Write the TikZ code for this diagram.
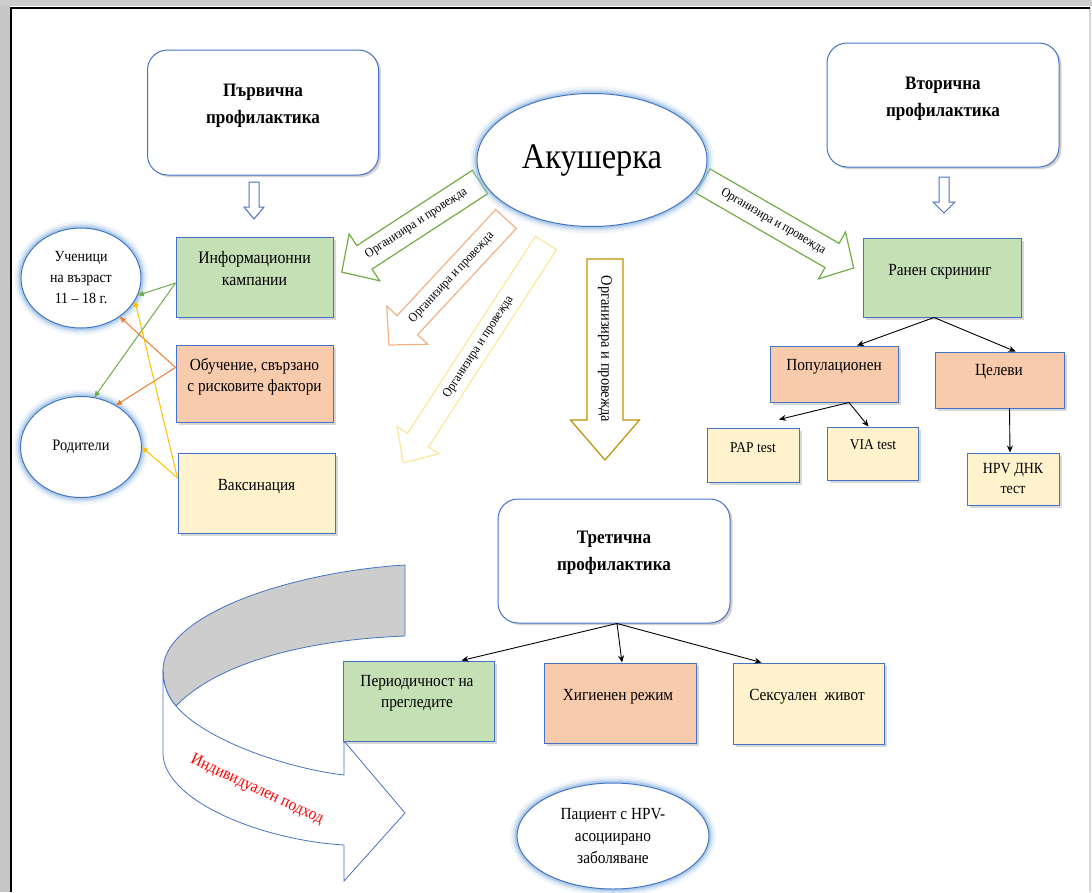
\documentclass[tikz,border=0pt]{standalone}
\usepackage{fontspec}
\setmainfont{Liberation Serif}[FakeStretch=0.9]
\usetikzlibrary{shapes.geometric, arrows.meta, shadows, calc}

\definecolor{bblue}{HTML}{4472C4}
\definecolor{gfill}{HTML}{C5E0B4}
\definecolor{pfill}{HTML}{F8CBAD}
\definecolor{yfill}{HTML}{FFF2CC}
\definecolor{garr}{HTML}{70AD47}
\definecolor{parr}{HTML}{F4B183}
\definecolor{yarr}{HTML}{FFE699}
\definecolor{goldarr}{HTML}{BF9000}
\definecolor{oarr}{HTML}{ED7D31}
\definecolor{yarrB}{HTML}{FFC000}
\definecolor{glowc}{HTML}{5B9BD5}
\definecolor{bandgray}{HTML}{CDCDCD}

\newcommand{\fs}[2]{\fontsize{#1}{#2}\selectfont}
\newcounter{barr}
% #1 start, #2 angle, #3 length, #4 half shaft, #5 half head, #6 head length, #7 colour, #8 text centre distance, #9 text rotation
\newcommand{\barrow}[9]{%
  \stepcounter{barr}%
  \begin{scope}[shift={#1}, rotate=#2]
    \draw[draw=#7, line width=1.2pt, fill=white, line join=miter]
      (0pt,-#4pt) -- ({#3pt-#6pt},-#4pt) -- ({#3pt-#6pt},-#5pt) -- (#3pt,0pt)
      -- ({#3pt-#6pt},#5pt) -- ({#3pt-#6pt},#4pt) -- (0pt,#4pt) -- cycle;
    \node[arrtxt, rotate=#9] (lbl\thebarr) at (#8pt,0pt) {Организира и провежда};
  \end{scope}}

\begin{document}
\begin{tikzpicture}[x=1pt, y=-1pt,
  box/.style={rectangle, draw=bblue, line width=1pt, inner sep=0pt,
    drop shadow={shadow xshift=2.5pt, shadow yshift=-2.5pt, opacity=0.3}},
  headbox/.style={rectangle, rounded corners=20pt, draw=bblue, line width=1pt, fill=white, inner sep=0pt,
    drop shadow={shadow xshift=2.5pt, shadow yshift=-2pt, opacity=0.35}},
  txt/.style={align=center, font=\fs{17}{21}, inner sep=0pt},
  htxt/.style={align=center, font=\bfseries\fs{19}{27}, inner sep=0pt},
  arrtxt/.style={font=\fs{13}{15}, inner sep=0pt},
  glowell/.style={ellipse, draw=bblue, line width=1pt, fill=white, inner sep=0pt, align=center,
    preaction={draw=glowc!50, line width=14pt, opacity=0.18},
    preaction={draw=glowc!60, line width=9pt, opacity=0.3},
    preaction={draw=glowc!70, line width=5pt, opacity=0.5}},
  thinar/.style={line width=1pt, -{Triangle[length=6pt,width=5pt]}},
  blkar/.style={line width=0.9pt, -{Stealth[length=7pt,width=6pt]}},
  hollow/.style={draw=bblue, line width=1pt, fill=white}
]
\useasboundingbox (0,0) rectangle (1092,892);
\fill[white] (0,0) rectangle (1092,892);

% frame
\fill[gray!45] (0,0) rectangle (10,892);
\fill[gray!40] (0,0) rectangle (1092,6);
\draw[gray!30, line width=1.5pt] (1090,8) -- (1090,892);
\draw[black, line width=2pt] (11,892) -- (11,8) -- (1090,8);

% ribbon arrow (individual approach)
\fill[bandgray, draw=bblue, line width=0.8pt]
  (405,565) .. controls (290,572) and (163,615) .. (163,670)
  .. controls (163,685) and (168,697) .. (176,706)
  .. controls (215,665) and (300,640) .. (405,636) -- cycle;
\filldraw[fill=white, draw=bblue, line width=0.8pt]
  (163,670) -- (163,753)
  .. controls (163,800) and (260,840) .. (344,845)
  -- (344,881) -- (405,813) -- (344,741) -- (344,775)
  .. controls (285,768) and (205,740) .. (176,706)
  .. controls (168,697) and (163,685) .. (163,670) -- cycle;
\node[font=\fs{17}{20}, text=red, rotate=-25, inner sep=0pt] (indiv) at (257,790) {Индивидуален подход};

% block arrows from the midwife
\barrow{(480,182)}{213.1}{165}{14}{28}{27}{garr}{76}{33.1}
\barrow{(506,219)}{227.1}{172}{14}{28}{27}{parr}{80}{47.1}
\barrow{(546,243)}{237}{262}{12.5}{25}{27}{yarr}{124}{57}
\barrow{(703,181)}{-30}{174}{14}{27}{25}{garr}{81}{-30}
\begin{scope}[arrtxt/.style={font=\fs{16}{18}, inner sep=0pt}]
\barrow{(605,259)}{-90}{201}{18}{34.5}{40}{goldarr}{90}{-90}
\end{scope}

% central ellipse
\node[glowell, minimum width=230pt, minimum height=133pt, font=\fs{36}{40}] (akush) at (592,160) {Акушерка};

% heading boxes
\node[headbox, minimum width=231pt, minimum height=125pt] (prv) at (263,112.5) {};
\node[htxt] (prvt) at (263,106) {Първична\\профилактика};
\node[headbox, minimum width=232pt, minimum height=124pt] (vtr) at (943,105) {};
\node[htxt] (vtrt) at (943,99) {Вторична\\профилактика};
\node[headbox, minimum width=232pt, minimum height=124pt] (tret) at (614,561) {};
\node[htxt] (trett) at (614,553) {Третична\\профилактика};

% small hollow arrows
\draw[hollow] (249,182) -- (259,182) -- (259,207) -- (264,207) -- (254,219) -- (244,207) -- (249,207) -- cycle;
\draw[hollow] (939,177) -- (949,177) -- (949,202) -- (955,202) -- (944,213) -- (933,202) -- (939,202) -- cycle;

% primary prevention boxes
\node[box, fill=gfill, minimum width=157pt, minimum height=80pt] (info) at (254.5,277) {};
\node[txt, font=\fs{17.5}{22}] (infot) at (254.5,269) {Информационни\\кампании};
\node[box, fill=pfill, minimum width=157pt, minimum height=77pt] (obuch) at (254.5,383.5) {};
\node[txt] (obucht) at (254.5,377) {Обучение, свързано\\с рисковите фактори};
\node[box, fill=yfill, minimum width=157pt, minimum height=80pt] (vax) at (256.5,493) {};
\node[txt] (vaxt) at (256.5,487) {Ваксинация};

% target groups
\node[glowell, minimum width=120pt, minimum height=100pt, font=\fs{15.5}{21}] (uch) at (81,278) {Ученици\\на възраст\\11 – 18 г.};
\node[glowell, minimum width=121pt, minimum height=101pt, font=\fs{16}{20}] (rod) at (81,447) {Родители};

\draw[thinar, garr] ([yshift=-6pt]info.west) -- (uch.-17);
\draw[thinar, garr] ([yshift=-6pt]info.west) -- (rod.75);
\draw[thinar, oarr] ([yshift=16pt]obuch.west) -- (uch.-45);
\draw[thinar, oarr] ([yshift=16pt]obuch.west) -- (rod.50);
\draw[thinar, yarrB] ([yshift=15pt]vax.west) -- (uch.-23);
\draw[thinar, yarrB] ([yshift=15pt]vax.west) -- (rod.0);

% secondary prevention
\node[box, fill=gfill, minimum width=158pt, minimum height=79pt] (ranen) at (942,277.5) {};
\node[txt] (ranent) at (940,272) {Ранен скрининг};
\node[box, fill=pfill, minimum width=128pt, minimum height=56pt] (popul) at (834,374) {};
\node[txt] (popult) at (834,367) {Популационен};
\node[box, fill=pfill, minimum width=129pt, minimum height=56pt] (celevi) at (999.5,380) {};
\node[txt] (celevit) at (999,372) {Целеви};
\node[box, fill=yfill, minimum width=92pt, minimum height=54pt] (pap) at (753,455) {};
\node[txt, font=\fs{15}{19}] (papt) at (753,448) {PAP test};
\node[box, fill=yfill, minimum width=91pt, minimum height=53pt] (via) at (872.5,453.5) {};
\node[txt, font=\fs{15}{19}] (viat) at (873,445) {VIA test};
\node[box, fill=yfill, minimum width=92pt, minimum height=52pt] (hpv) at (1013,479) {};
\node[txt, font=\fs{15.5}{20}] (hpvt) at (1013,478) {HPV ДНК\\тест};

\draw[blkar] ([xshift=-8pt]ranen.south) -- ([xshift=23pt]popul.north);
\draw[blkar] ([xshift=-8pt]ranen.south) -- ([xshift=16pt]celevi.north);
\draw[blkar] ([xshift=15pt]popul.south) -- ([xshift=26pt,yshift=8pt]pap.north);
\draw[blkar] ([xshift=15pt]popul.south) -- ([xshift=-4pt]via.north);
\draw[blkar] ([xshift=10pt]celevi.south) -- ([xshift=-3pt]hpv.north);

% tertiary prevention
\node[box, fill=gfill, minimum width=151pt, minimum height=80pt] (per) at (418.5,701) {};
\node[txt] (pert) at (417,693) {Периодичност на\\прегледите};
\node[box, fill=pfill, minimum width=152pt, minimum height=80pt] (hyg) at (620,703) {};
\node[txt] (hygt) at (618,697) {Хигиенен режим};
\node[box, fill=yfill, minimum width=151pt, minimum height=81pt] (sex) at (808.5,703.5) {};
\node[txt] (sext) at (807,697) {Сексуален\ \ живот};

\draw[blkar] ([xshift=3pt]tret.south) -- ([xshift=43pt]per.north);
\draw[blkar] ([xshift=3pt]tret.south) -- ([xshift=2pt]hyg.north);
\draw[blkar] ([xshift=3pt]tret.south) -- ([xshift=-47pt]sex.north);

% patient
\node[glowell, minimum width=192pt, minimum height=106pt, font=\fs{17}{22}] (pac) at (613,836) {Пациент с HPV-\\асоциирано\\заболяване};
\end{tikzpicture}
\end{document}
